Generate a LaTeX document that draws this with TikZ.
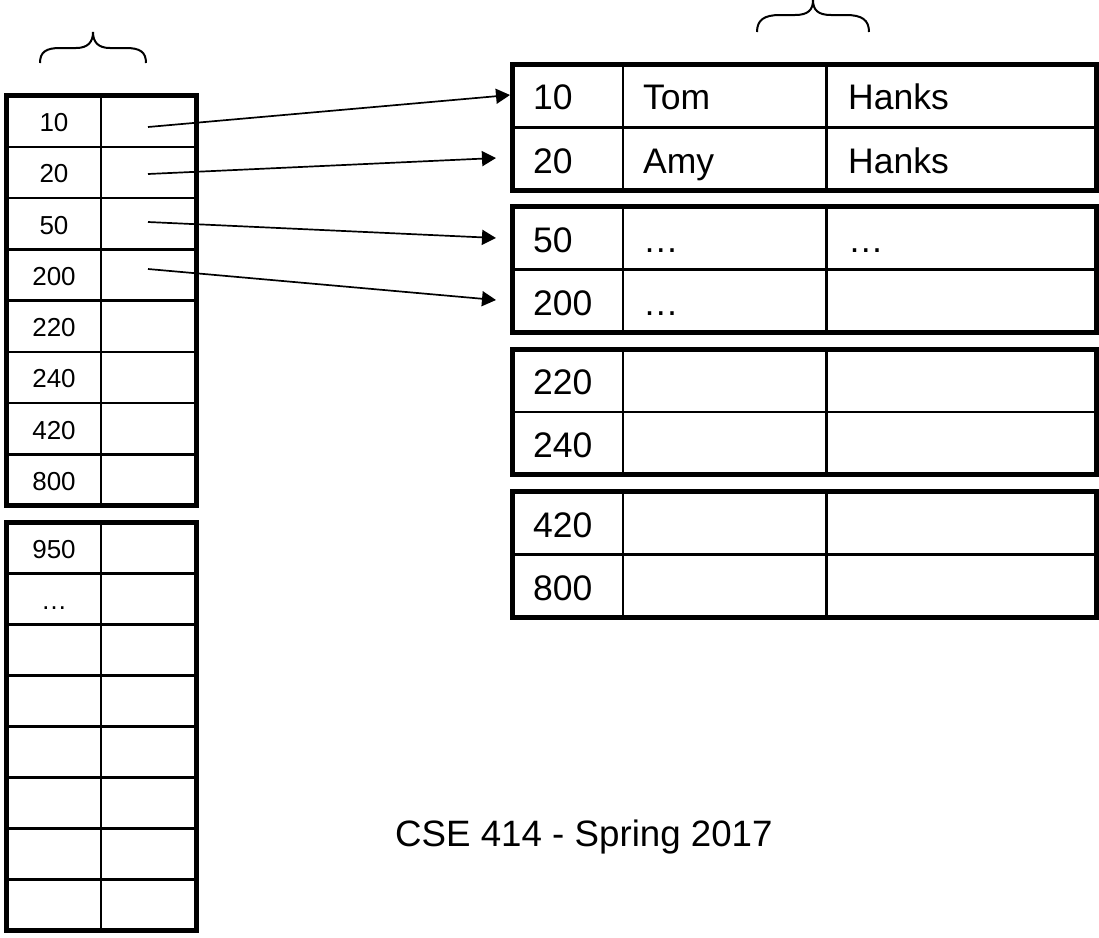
\documentclass[tikz,border=0pt]{standalone}
\usepackage{fontspec}
\setmainfont{Liberation Sans}
\usetikzlibrary{arrows.meta}
\begin{document}
\begin{tikzpicture}[x=1pt,y=-1pt,
  thickbox/.style={line width=5pt},
  thinline/.style={line width=2.5pt},
  ptr/.style={line width=1.7pt,-{Triangle[length=14pt,width=15pt]}},
  bracestyle/.style={line width=2pt},
  lnum/.style={anchor=base,inner sep=0pt,font=\fontsize{26}{31}\selectfont},
  rtext/.style={anchor=base west,inner sep=0pt,font=\fontsize{35.5}{42}\selectfont},
]
\useasboundingbox (0,0) rectangle (1099,937);

% ---------- left index table, block 1 ----------
\foreach \i in {1,...,7} \draw[thinline] (6.5,{95.5+51.25*\i}) -- (196.5,{95.5+51.25*\i});
\draw[thinline] (101,95.5) -- (101,505.5);
\draw[thickbox] (6.5,95.5) rectangle (196.5,505.5);

% ---------- left index table, block 2 ----------
\foreach \i in {1,...,7} \draw[thinline] (6.5,{522.5+51*\i}) -- (196.5,{522.5+51*\i});
\draw[thinline] (101,522.5) -- (101,930.5);
\draw[thickbox] (6.5,522.5) rectangle (196.5,930.5);

% left keys
\node[lnum] (l10)  at (54,131.5) {10};
\node[lnum] (l20)  at (54,182.5) {20};
\node[lnum] (l50)  at (54,234)   {50};
\node[lnum] (l200) at (54,285.5) {200};
\node[lnum] (l220) at (54,336.5) {220};
\node[lnum] (l240) at (54,387.5) {240};
\node[lnum] (l420) at (54,439)   {420};
\node[lnum] (l800) at (54,490.5) {800};
\node[lnum] (l950) at (54,558)   {950};
\node[lnum] (ldots) at (54,609)  {\ldots};

% ---------- right data table ----------
\foreach \t/\m/\b in {64.5/127.5/190.5, 206.5/269.5/332.5, 349.5/412/474.5, 491.5/554.5/617.5} {
  \draw[thinline] (512.5,\m) -- (1096.5,\m);
  \draw[thinline] (623,\t) -- (623,\b);
  \draw[thinline] (826.7,\t) -- (826.7,\b);
  \draw[thickbox] (512.5,\t) rectangle (1096.5,\b);
}

\node[rtext] (r10)  at (533,109.75) {10};
\node[rtext] (r10b) at (643,109.75) {Tom};
\node[rtext] (r10c) at (848,109.75) {Hanks};
\node[rtext] (r20)  at (533,173.25) {20};
\node[rtext] (r20b) at (643,173.25) {Amy};
\node[rtext] (r20c) at (848,173.25) {Hanks};
\node[rtext] (r50)  at (533,252) {50};
\node[rtext] (r50b) at (643,252) {\ldots};
\node[rtext] (r50c) at (848,252) {\ldots};
\node[rtext] (r200) at (533,315) {200};
\node[rtext] (r200b) at (643,315) {\ldots};
\node[rtext] (r220) at (533,394.75) {220};
\node[rtext] (r240) at (533,457.25) {240};
\node[rtext] (r420) at (533,537) {420};
\node[rtext] (r800) at (533,600) {800};

% ---------- pointers ----------
\coordinate (p10)  at (148,127);
\coordinate (p20)  at (148,174);
\coordinate (p50)  at (148,222);
\coordinate (p200) at (148,269);
\coordinate (t10)  at (510,95);
\coordinate (t20)  at (496,158);
\coordinate (t50)  at (496,238);
\coordinate (t200) at (496,300);
\draw[ptr] (p10) -- (t10);
\draw[ptr] (p20) -- (t20);
\draw[ptr] (p50) -- (t50);
\draw[ptr] (p200) -- (t200);

% ---------- braces ----------
\draw[bracestyle] (40,63) .. controls (40,52) and (46,48) .. (60,48) -- (76,48)
  .. controls (88,48) and (93,42) .. (93,32)
  .. controls (93,42) and (98,48) .. (110,48) -- (126,48)
  .. controls (140,48) and (146,52) .. (146,63);
\draw[bracestyle] (757,32) .. controls (757,20) and (764,15) .. (780,15) -- (795,15)
  .. controls (808,15) and (813,10) .. (813,0)
  .. controls (813,10) and (818,15) .. (831,15) -- (846,15)
  .. controls (862,15) and (869,20) .. (869,32);

% ---------- footer ----------
\node[anchor=base west,inner sep=0pt,font=\fontsize{36.7}{44}\selectfont] (footer) at (395,846) {CSE 414 - Spring 2017};
\end{tikzpicture}
\end{document}
